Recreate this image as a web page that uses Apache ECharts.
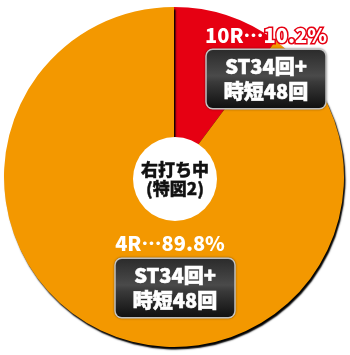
<!DOCTYPE html>
<html><head><meta charset="utf-8">
<script src="https://cdn.jsdelivr.net/npm/echarts@6/dist/echarts.min.js"></script>
<style>html,body{margin:0;padding:0;background:#fff}#c{width:350px;height:355px}</style>
</head><body><div id="c"></div>
<script>
const categories = ['10R', '4R'];
const values = [10.2, 89.8];
const boxTexts = ['ST34回+\n時短48回', 'ST34回+\n時短48回'];
const colors = ['#E60012', '#F39800'];
const centerText = '右打ち中\n(特図2)';

const FONT = '"Noto Sans CJK JP", "Noto Sans", sans-serif';
const chart = echarts.init(document.getElementById('c'), null, {renderer: 'canvas'});
const labelPos = [{x: 266, y: 35}, {x: 170, y: 243}];
const boxPos = [{x: 266, y: 79}, {x: 175, y: 288}];
const center = [174, 177];

function pctRich(col) {
  const base = {color: '#fff', fontFamily: FONT, fontWeight: 900, fontSize: 20, textBorderColor: col, textBorderWidth: 3};
  return {t: base, e: Object.assign({}, base, {fontFamily: '"Noto Sans CJK SC", "Noto Sans CJK JP", sans-serif', fontSize: 20})};
}

const pieData = categories.map((c, i) => ({
  name: c, value: values[i],
  itemStyle: {color: colors[i]},
  label: {rich: pctRich(colors[i])}
}));

chart.setOption({
  animation: false,
  series: [
    {
      type: 'pie', center: center, radius: [0, 170], startAngle: 90, clockwise: true,
      silent: true, z: 1,
      data: pieData,
      itemStyle: {shadowColor: 'rgba(0,0,0,1)', shadowBlur: 1.5, shadowOffsetX: 1.5, shadowOffsetY: 2.5, borderWidth: 0},
      label: {
        show: true, position: 'inside',
        formatter: p => '{t|' + p.name + '}{e|…}{t|' + p.value.toFixed(1) + '%}'
      },
      labelLine: {show: false},
      labelLayout: p => ({x: labelPos[p.dataIndex].x, y: labelPos[p.dataIndex].y, align: 'center', verticalAlign: 'middle'})
    },
    {
      type: 'pie', center: center, radius: [0, 170], startAngle: 90, clockwise: true,
      silent: true, z: 3,
      data: categories.map((c, i) => ({name: c, value: values[i], itemStyle: {color: 'rgba(0,0,0,0)'}})),
      label: {
        show: true, position: 'inside',
        formatter: p => boxTexts[p.dataIndex],
        color: '#fff', fontFamily: FONT, fontWeight: 900, fontSize: 20, lineHeight: 25,
        textBorderColor: '#fff', textBorderWidth: 0.6,
        align: 'center',
        padding: [4, 17, 4, 17],
        backgroundColor: new echarts.graphic.LinearGradient(0, 0, 0, 1, [
          {offset: 0, color: '#2a2a2a'},
          {offset: 0.45, color: '#4a4a4a'},
          {offset: 0.55, color: '#3a3a3a'},
          {offset: 1, color: '#0e0e0e'}
        ]),
        borderColor: '#d8d8d8', borderWidth: 1.5, borderRadius: 6,
        shadowColor: 'rgba(0,0,0,0.5)', shadowBlur: 2
      },
      labelLine: {show: false},
      labelLayout: p => ({x: boxPos[p.dataIndex].x, y: boxPos[p.dataIndex].y, align: 'center', verticalAlign: 'middle'})
    },
    {
      type: 'pie', center: [175, 179], radius: [0, 42], silent: true, z: 2,
      data: [{name: 'c', value: 1, itemStyle: {color: '#fff'}}],
      label: {
        show: true, position: 'center', formatter: centerText,
        color: '#111', fontFamily: FONT, fontWeight: 900, fontSize: 17, lineHeight: 19,
        textBorderColor: '#111', textBorderWidth: 0.4
      },
      labelLine: {show: false}
    }
  ]
});
</script></body></html>
